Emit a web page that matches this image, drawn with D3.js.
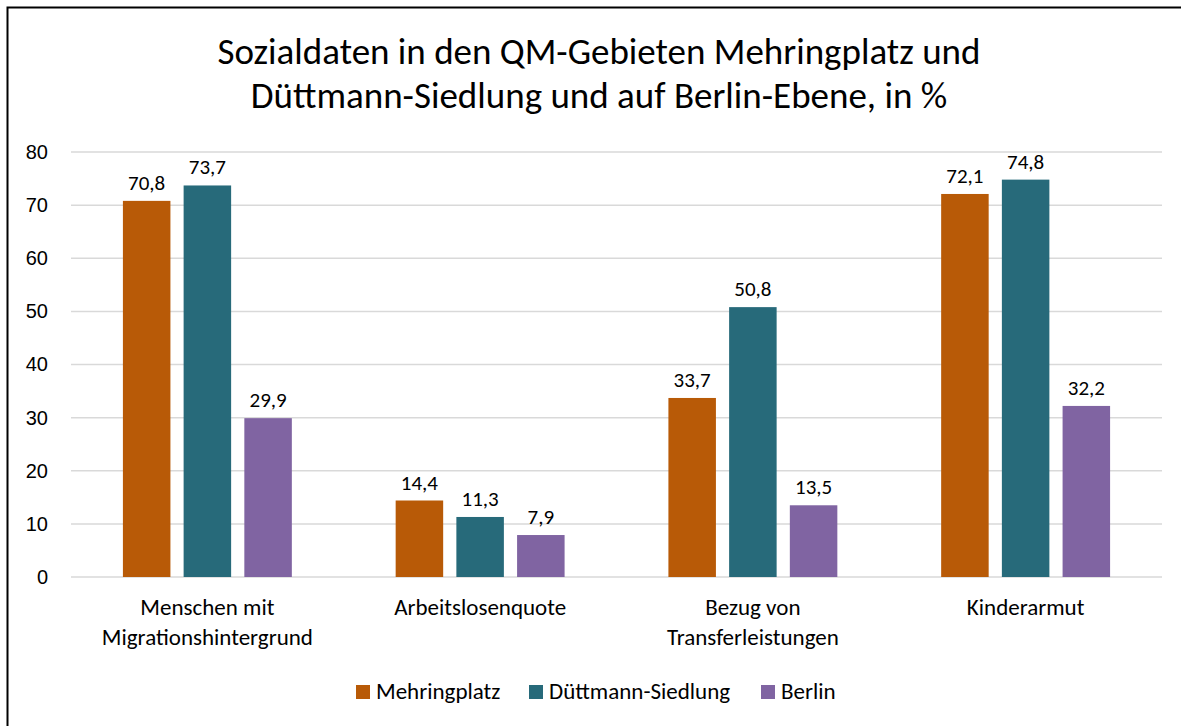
<!DOCTYPE html>
<html>
<head>
<meta charset="utf-8">
<script src="https://cdn.jsdelivr.net/npm/d3@7"></script>
<style>
  body { margin: 0; background: #fff; }
  svg { display: block; font-family: Carlito, Lato, "Open Sans", sans-serif; }
</style>
</head>
<body>
<div id="chart"></div>
<script>
// data
const categories = [["Menschen mit", "Migrationshintergrund"], ["Arbeitslosenquote"], ["Bezug von", "Transferleistungen"], ["Kinderarmut"]];
const seriesNames = ["Mehringplatz", "Düttmann-Siedlung", "Berlin"];
const mehringplatz = [70.8, 14.4, 33.7, 72.1];
const duettmann = [73.7, 11.3, 50.8, 74.8];
const berlin = [29.9, 7.9, 13.5, 32.2];
const yTicks = [0, 10, 20, 30, 40, 50, 60, 70, 80];
const colors = ["#B85A07", "#276A7A", "#8064A2"];

const width = 1181, height = 726;
const margin = {top: 152, right: 19, bottom: 149, left: 71};

let svg = d3.select("#chart").append("svg")
    .attr("width", width)
    .attr("height", height);

// outer frame (runs past the right and bottom edge like the reference)
svg.append("rect")
    .attr("x", 7.5).attr("y", 7.5)
    .attr("width", 1200).attr("height", 800)
    .attr("fill", "none").attr("stroke", "#000").attr("stroke-width", 2);

// title
let title = svg.append("text")
    .attr("text-anchor", "middle")
    .attr("font-size", 37)
    .attr("fill", "#000");
title.append("tspan").attr("x", 599).attr("y", 64).text("Sozialdaten in den QM-Gebieten Mehringplatz und");
title.append("tspan").attr("x", 599).attr("y", 108).text("Düttmann-Siedlung und auf Berlin-Ebene, in %");

let plotW = width - margin.left - margin.right;
let plotH = height - margin.top - margin.bottom;

let y = d3.scaleLinear().domain([0, 80]).range([margin.top + plotH, margin.top]);
let x0 = d3.scaleBand().domain(d3.range(categories.length)).range([margin.left, margin.left + plotW]).paddingInner(0).paddingOuter(0);
let x1 = d3.scaleBand().domain(d3.range(seriesNames.length)).range([0, x0.bandwidth()]).paddingInner(0.2175).paddingOuter(0.855);

// gridlines
svg.append("g").selectAll("line")
    .data(yTicks)
    .join("line")
    .attr("x1", margin.left).attr("x2", margin.left + plotW)
    .attr("y1", d => y(d)).attr("y2", d => y(d))
    .attr("stroke", "#d9d9d9").attr("stroke-width", 1.5);

// y axis labels
let yAxis = d3.axisLeft(y).tickValues(yTicks).tickSize(0).tickPadding(0);
let gy = svg.append("g").attr("transform", `translate(${margin.left - 23},0)`).call(yAxis);
gy.select(".domain").remove();
gy.selectAll("text").attr("font-size", 20).attr("fill", "#000").attr("font-family", null);

let allSeries = [mehringplatz, duettmann, berlin];

let groups = svg.append("g").selectAll("g")
    .data(categories.map((c, i) => i))
    .join("g")
    .attr("transform", i => `translate(${x0(i)},0)`);

groups.selectAll("rect")
    .data(i => allSeries.map((s, k) => ({k: k, v: s[i]})))
    .join("rect")
    .attr("x", d => x1(d.k))
    .attr("width", x1.bandwidth())
    .attr("y", d => y(d.v))
    .attr("height", d => y(0) - y(d.v))
    .attr("fill", d => colors[d.k]);

groups.selectAll("text.val")
    .data(i => allSeries.map((s, k) => ({k: k, v: s[i]})))
    .join("text")
    .attr("class", "val")
    .attr("x", d => x1(d.k) + x1.bandwidth() / 2)
    .attr("y", d => y(d.v) - 11)
    .attr("text-anchor", "middle")
    .attr("font-size", 21)
    .text(d => d3.format(".1f")(d.v).replace(".", ","));

// category labels
let catLabels = svg.append("g").selectAll("text")
    .data(categories)
    .join("text")
    .attr("text-anchor", "middle")
    .attr("font-size", 23)
    .attr("x", (d, i) => x0(i) + x0.bandwidth() / 2);
catLabels.selectAll("tspan")
    .data(d => d)
    .join("tspan")
    .attr("x", function() { return d3.select(this.parentNode).attr("x"); })
    .attr("y", (d, j) => 615 + j * 30)
    .text(d => d);

// legend
let legendX = [356, 529, 761];
let legend = svg.append("g").selectAll("g")
    .data(seriesNames)
    .join("g")
    .attr("transform", (d, i) => `translate(${legendX[i]},685)`);
legend.append("rect").attr("width", 14).attr("height", 14).attr("fill", (d, i) => colors[i]);
legend.append("text").attr("x", 20).attr("y", 13.5).attr("font-size", 23).text(d => d);
</script>
</body>
</html>
